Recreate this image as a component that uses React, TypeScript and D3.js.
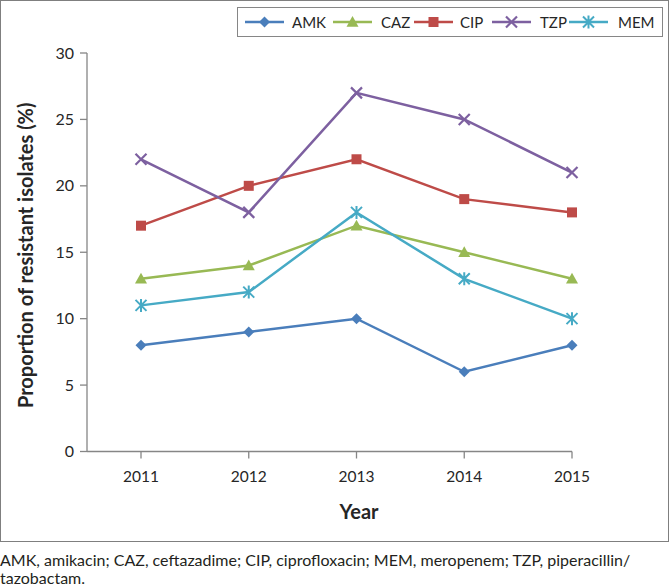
import React from "react";
import * as d3 from "d3";

const years = ["2011", "2012", "2013", "2014", "2015"];
const yTicks = [0, 5, 10, 15, 20, 25, 30];
const seriesNames = ["AMK", "CAZ", "CIP", "TZP", "MEM"];
const amk = [8, 9, 10, 6, 8];
const caz = [13, 14, 17, 15, 13];
const cip = [17, 20, 22, 19, 18];
const tzp = [22, 18, 27, 25, 21];
const mem = [11, 12, 18, 13, 10];
const colors = ["#4a7ebb", "#98b954", "#be4b48", "#7d60a0", "#46aac5"];
const markers = ["diamond", "triangle", "square", "x", "star"];
const footnote1 = "AMK, amikacin; CAZ, ceftazadime; CIP, ciprofloxacin; MEM, meropenem; TZP, piperacillin/";
const footnote2 = "tazobactam.";

const FONT = "Lato, 'Open Sans', sans-serif";

function Marker({ type, x, y, color }: { type: string; x: number; y: number; color: string }) {
  if (type === "diamond") {
    const s = 5.5;
    return <path d={`M${x},${y - s}L${x + s},${y}L${x},${y + s}L${x - s},${y}Z`} fill={color} />;
  }
  if (type === "triangle") {
    const s = 6;
    return <path d={`M${x},${y - s}L${x + s},${y + s * 0.8}L${x - s},${y + s * 0.8}Z`} fill={color} />;
  }
  if (type === "square") {
    const s = 5;
    return <rect x={x - s} y={y - s} width={2 * s} height={2 * s} fill={color} />;
  }
  if (type === "x") {
    const s = 5.5;
    return (
      <path d={`M${x - s},${y - s}L${x + s},${y + s}M${x - s},${y + s}L${x + s},${y - s}`} stroke={color} strokeWidth={2.2} />
    );
  }
  const s = 5.5;
  return (
    <path
      d={`M${x - s},${y - s}L${x + s},${y + s}M${x - s},${y + s}L${x + s},${y - s}M${x},${y - s - 1}L${x},${y + s + 1}`}
      stroke={color}
      strokeWidth={2}
    />
  );
}

export default function App() {
  const data = [amk, caz, cip, tzp, mem];
  const xAxis0 = 87;
  const x = d3.scalePoint<string>().domain(years).range([141, 572]);
  const y = d3.scaleLinear().domain([0, 30]).range([451.5, 53]);
  const line = d3
    .line<number>()
    .x((_, i) => x(years[i]) as number)
    .y((d) => y(d));

  const legendX = [245, 333, 414, 492, 569];
  const legendTextX = [292, 381, 460, 540, 618];
  const legendY = 22;

  return (
    <svg
      width={670}
      height={587}
      style={{ position: "absolute", left: 0, top: 0, background: "#fff" }}
      fontFamily={FONT}
    >
      <rect x={0.5} y={0.5} width={668} height={541} fill="#fff" stroke="#7f7f7f" strokeWidth={1} />
      {/* legend */}
      <rect x={237.5} y={7.5} width={425} height={29} fill="#fff" stroke="#868686" strokeWidth={1} />
      {seriesNames.map((n, i) => (
        <g key={n}>
          <line x1={legendX[i]} x2={legendX[i] + 39} y1={legendY} y2={legendY} stroke={colors[i]} strokeWidth={2.5} />
          <Marker type={markers[i]} x={legendX[i] + 19.5} y={legendY} color={colors[i]} />
          <text x={legendTextX[i]} y={legendY + 5.5} fontSize={15} fill="#262626">
            {n}
          </text>
        </g>
      ))}
      {/* axes */}
      <line x1={xAxis0} x2={xAxis0} y1={y(30)} y2={y(0)} stroke="#868686" strokeWidth={1.3} />
      <line x1={xAxis0} x2={572} y1={y(0)} y2={y(0)} stroke="#868686" strokeWidth={1.3} />
      {yTicks.map((t) => (
        <g key={t}>
          <line x1={xAxis0 - 7} x2={xAxis0} y1={y(t)} y2={y(t)} stroke="#868686" strokeWidth={1.3} />
          <text x={74} y={y(t) + 5.5} textAnchor="end" fontSize={16} fill="#262626">
            {t}
          </text>
        </g>
      ))}
      {years.map((yr) => (
        <g key={yr}>
          <line x1={x(yr)} x2={x(yr)} y1={y(0)} y2={y(0) + 7} stroke="#868686" strokeWidth={1.3} />
          <text x={x(yr)} y={y(0) + 30.5} textAnchor="middle" fontSize={15.5} fill="#262626">
            {yr}
          </text>
        </g>
      ))}
      <text x={359} y={519} textAnchor="middle" fontSize={20} fontWeight="bold" fill="#262626">
        Year
      </text>
      <text
        transform={`translate(33,${(y(0) + y(30)) / 2 + 3}) rotate(-90)`}
        textAnchor="middle"
        fontSize={20}
        fontWeight="bold"
        fill="#262626"
      >
        Proportion of resistant isolates (%)
      </text>
      {/* series */}
      {data.map((vals, si) => (
        <g key={seriesNames[si]}>
          <path d={line(vals) || ""} fill="none" stroke={colors[si]} strokeWidth={2.5} />
          {vals.map((v, i) => (
            <Marker key={i} type={markers[si]} x={x(years[i]) as number} y={y(v)} color={colors[si]} />
          ))}
        </g>
      ))}
      <text x={0} y={566} fontSize={16} fill="#231f20">
        {footnote1}
      </text>
      <text x={0} y={584} fontSize={16} fill="#231f20">
        {footnote2}
      </text>
    </svg>
  );
}
